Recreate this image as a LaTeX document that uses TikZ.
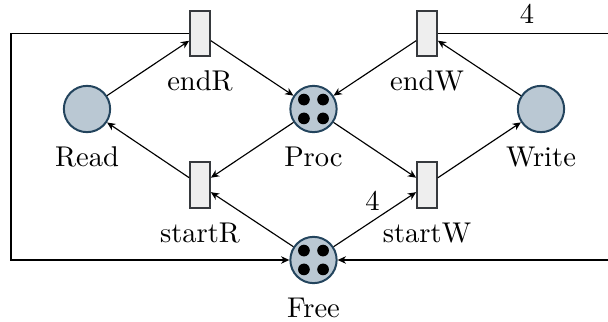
\documentclass[tikz,border=0pt]{standalone}
\usetikzlibrary{arrows.meta}
\definecolor{placefill}{HTML}{BAC8D3}
\definecolor{placedraw}{HTML}{23445D}
\definecolor{transfill}{HTML}{EEEEEE}
\definecolor{transdraw}{HTML}{36393D}
\begin{document}
\begin{tikzpicture}[x=0.35pt,y=-0.35pt,
  place/.style={circle, draw=placedraw, fill=placefill, line width=0.7pt,
    minimum size=16.2pt, inner sep=0pt},
  token/.style={fill=black},
  trans/.style={rectangle, draw=transdraw, fill=transfill, line width=0.7pt,
    minimum width=6.9pt, minimum height=16pt, inner sep=0pt},
  arc/.style={-{Stealth[length=2.9pt, width=2.6pt, inset=0.9pt]}, line width=0.4pt},
  label distance=1.3pt]
\clip (0,0) rectangle (608,322);
% places
\node[place, label=below:Read] (read) at (87,109) {};
\node[place, label=below:Proc] (proc) at (313.5,109) {};
\node[place, label=below:Write] (write) at (541,109) {};
\node[place, label=below:Free] (free) at (313.5,260) {};
% tokens
\foreach \p in {proc,free}{
  \fill[token] (\p) ++(-3.35pt,3.3pt) circle (2.05pt);
  \fill[token] (\p) ++(3.35pt,3.3pt) circle (2.05pt);
  \fill[token] (\p) ++(-3.35pt,-3.3pt) circle (2.05pt);
  \fill[token] (\p) ++(3.35pt,-3.3pt) circle (2.05pt);
}
% transitions
\node[trans, label=below:endR] (endR) at (200,33.5) {};
\node[trans, label=below:endW] (endW) at (427,33.5) {};
\node[trans, label=below:startR] (startR) at (200,185) {};
\node[trans, label=below:startW] (startW) at (427,185) {};
% corner coordinates
\coordinate (lt) at (11,33.5);
\coordinate (lb) at (11,260);
\coordinate (rt) at (625,33.5);
\coordinate (rb) at (625,260);
% arcs
\draw[arc] (read) -- (endR);
\draw[arc] (endR) -- (proc);
\draw[arc] (proc) -- (startR);
\draw[arc] (startR) -- (read);
\draw[arc] (free) -- (startR);
\draw[arc] (proc) -- (startW);
\draw[arc] (startW) -- (write);
\draw[arc] (write) -- (endW);
\draw[arc] (endW) -- (proc);
\draw[arc] (free) -- node[pos=0.6, above left, inner sep=1pt] {4} (startW);
\draw[arc] (endR.west) -- (lt) -- (lb) -- (free.west);
\draw[arc] (endW.east) -- node[pos=0.477, above] {4} (rt) -- (rb) -- (free.east);
\end{tikzpicture}
\end{document}
